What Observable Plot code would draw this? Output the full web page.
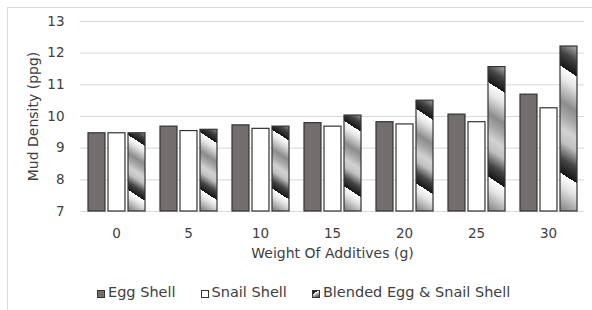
<!DOCTYPE html>
<html><head><meta charset="utf-8">
<script src="https://cdn.jsdelivr.net/npm/d3@7"></script>
<script src="https://cdn.jsdelivr.net/npm/@observablehq/plot@0.6"></script>
<style>
body{margin:0;background:#fff;overflow:hidden;}
#wrap{position:relative;width:592px;height:310px;font-family:"DejaVu Sans",Verdana,sans-serif;color:#404040;overflow:hidden;}
#border{position:absolute;left:7px;top:7px;width:700px;height:400px;border-left:1px solid #d9d9d9;border-top:1px solid #d9d9d9;}
#chart{position:absolute;left:0;top:0;}
#chart g[aria-label$="axis label"]{font-size:14px;}
#legend{position:absolute;left:97px;top:284px;display:flex;align-items:center;font-size:14.5px;white-space:nowrap;line-height:17px;}
.item{display:flex;align-items:center;margin-right:25px;}
.sw{width:6px;height:6px;border:1px solid #333;margin-right:3px;margin-top:2px;}
</style></head><body>
<div id="wrap"><div id="border"></div><div id="chart"></div><div id="legend"></div></div>
<script>
const categories = ["0", "5", "10", "15", "20", "25", "30"];
const seriesNames = ["Egg Shell", "Snail Shell", "Blended Egg & Snail Shell"];
const eggShell = [9.47, 9.68, 9.72, 9.79, 9.82, 10.06, 10.69];
const snailShell = [9.47, 9.54, 9.61, 9.68, 9.75, 9.82, 10.26];
const blended = [9.47, 9.58, 9.68, 10.03, 10.50, 11.56, 12.21];
const yTicks = [7, 8, 9, 10, 11, 12, 13];

const seriesValues = [eggShell, snailShell, blended];
const seriesFill = {"Egg Shell": "#736e6d", "Snail Shell": "#ffffff", "Blended Egg & Snail Shell": "url(#blendBase)"};
const table = [];
categories.forEach((c, i) => seriesNames.forEach((s, j) => table.push({cat: c, series: s, value: seriesValues[j][i]})));

const plot = Plot.plot({
  width: 592, height: 265,
  marginTop: 21, marginBottom: 54, marginLeft: 80, marginRight: 8,
  style: {fontFamily: "DejaVu Sans, Verdana, sans-serif", fontSize: "13.5px", color: "#404040", background: "transparent"},
  fx: {domain: categories, padding: 0, axis: "bottom", tickSize: 0, tickPadding: 17, label: "Weight Of Additives (g)", labelAnchor: "center", labelOffset: 46},
  x: {domain: seriesNames, axis: null, paddingInner: 0.15, paddingOuter: 0.356},
  y: {domain: [7, 13], ticks: 6, tickSize: 0, tickPadding: 16, label: "Mud Density (ppg)", labelAnchor: "center", labelOffset: 52, labelArrow: "none"},
  color: {type: "identity"},
  marks: [
    Plot.ruleY(yTicks, {stroke: "#d9d9d9", strokeWidth: 1}),
    Plot.barY(table, {fx: "cat", x: "series", y1: 7, y2: "value", fill: d => seriesFill[d.series], stroke: "#333333", strokeWidth: 1.2})
  ]
});
document.getElementById("chart").appendChild(plot);

// gradient styling for blended bars
const svg = plot.tagName.toLowerCase() === "svg" ? plot : plot.querySelector("svg");
const NS = "http://www.w3.org/2000/svg";
const defs = document.createElementNS(NS, "defs");
svg.insertBefore(defs, svg.firstChild);
const stops = [[0, "#ffffff"], [0.12, "#e4e4e4"], [0.33, "#8c8c8c"], [0.45, "#a8a8a8"], [0.58, "#d2d2d2"], [0.7, "#c0c0c0"], [0.86, "#444444"], [1, "#151515"]];
function makeGrad(id, x1, y1, x2, y2, units) {
  const g = document.createElementNS(NS, "linearGradient");
  g.setAttribute("id", id);
  g.setAttribute("gradientUnits", units);
  g.setAttribute("spreadMethod", "repeat");
  g.setAttribute("x1", x1); g.setAttribute("y1", y1); g.setAttribute("x2", x2); g.setAttribute("y2", y2);
  stops.forEach(([o, c]) => { const s = document.createElementNS(NS, "stop"); s.setAttribute("offset", o); s.setAttribute("stop-color", c); g.appendChild(s); });
  defs.appendChild(g);
}
makeGrad("blendBase", 0, 0.2, 0.3, 0.8, "objectBoundingBox");
const nx = -0.543, ny = 0.839;
svg.querySelectorAll('rect[fill="url(#blendBase)"]').forEach((r, k) => {
  const x = +r.getAttribute("x"), y = +r.getAttribute("y"), w = +r.getAttribute("width"), h = +r.getAttribute("height");
  const cx = x + w / 2;
  const off = Math.max(4, 0.2 * h - 8);
  const P = (0.6 * h + 8) * ny;
  const y0 = y + off;
  makeGrad("blend" + k, cx, y0, cx + nx * P, y0 + ny * P, "userSpaceOnUse");
  r.setAttribute("fill", "url(#blend" + k + ")");
});

// legend
const legend = document.getElementById("legend");
seriesNames.forEach((s, j) => {
  const it = document.createElement("div"); it.className = "item";
  const sw = document.createElement("div"); sw.className = "sw";
  if (j === 2) sw.style.background = "linear-gradient(150deg, #222 0 30%, #fff 31%, #999 65%, #444 100%)";
  else sw.style.background = seriesFill[s];
  const t = document.createElement("span"); t.textContent = s;
  it.appendChild(sw); it.appendChild(t); legend.appendChild(it);
});
</script>
</body></html>
